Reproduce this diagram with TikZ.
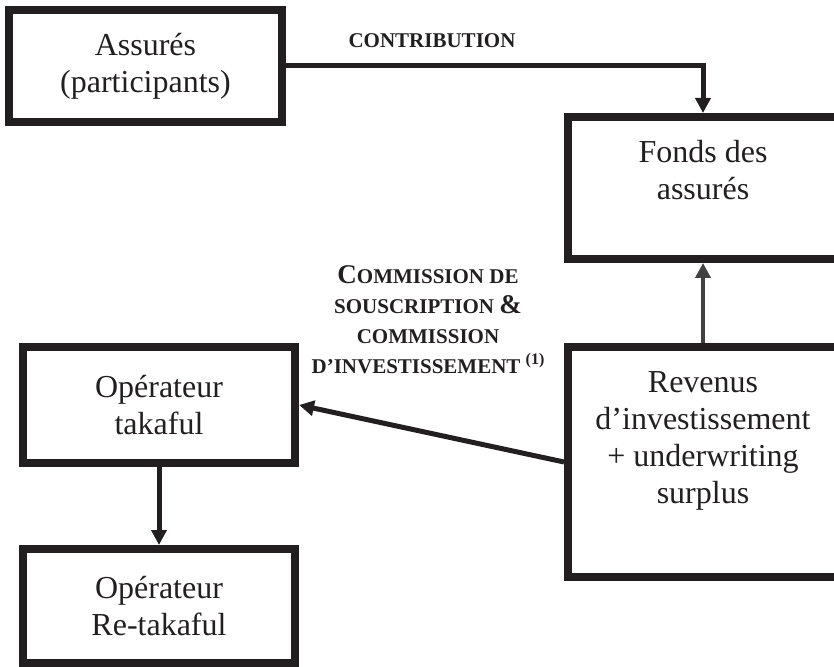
\documentclass[tikz,border=0pt]{standalone}
\usepackage{fontspec}
\setmainfont{Liberation Serif}
\usepackage{xcolor}
\usetikzlibrary{positioning, arrows.meta}

\definecolor{ink}{HTML}{231F20}
\definecolor{inkgray}{HTML}{414042}

\tikzset{
	box/.style={draw=ink, line width=4pt, outer sep=2pt, inner sep=0pt, align=center,
		text=ink, font=\fontsize{16}{18.5}\selectfont},
	flow/.style={draw=ink, line width=2.5pt, -{Triangle[length=7.5pt, width=7.5pt]}},
	tag/.style={text=ink, align=center, font=\bfseries\fontsize{10.5}{15}\selectfont}
}

\begin{document}
\begin{tikzpicture}[x=0.5pt, y=-0.5pt]
	\path[use as bounding box, clip] (0,0) rectangle (834,667);
	% boites %
	\node[box, minimum width=136.5pt, minimum height=56pt] (assures) at (145.5,66) {Assurés\\(participants)};
	\node[box, minimum width=135pt, minimum height=115pt] (revenus) at (703,462) {Revenus\\d’investissement\\+ underwriting\\surplus\\[6pt]~};
	\node[box, above=40pt of revenus, minimum width=135pt, minimum height=71pt] (fonds) {Fonds des\\assurés\\~};
	\node[box, minimum width=136pt, minimum height=58pt] (takaful) at (159,405) {Opérateur\\takaful};
	\node[box, below=39pt of takaful, minimum width=136pt, minimum height=57pt] (retakaful) {Opérateur\\Re-takaful};
	% etiquettes %
	\node[tag] (contribution) at (432,41) {CONTRIBUTION};
	\node[tag] (commission) at (428,320) {{\fontsize{13.5}{15}\selectfont C}OMMISSION DE\\SOUSCRIPTION {\fontsize{13.5}{15}\selectfont\&}\\COMMISSION\\D’INVESTISSEMENT {\fontsize{8}{8}\selectfont\raisebox{4.5pt}{(1)}}};
	% fleches %
	\draw[flow] (assures.east) -| (fonds.north);
	\draw[flow, draw=inkgray, line width=2pt] (revenus) -- (fonds);
	\draw[flow] (revenus.west) -- (takaful.east);
	\draw[flow] (takaful) -- (retakaful);
\end{tikzpicture}
\end{document}
